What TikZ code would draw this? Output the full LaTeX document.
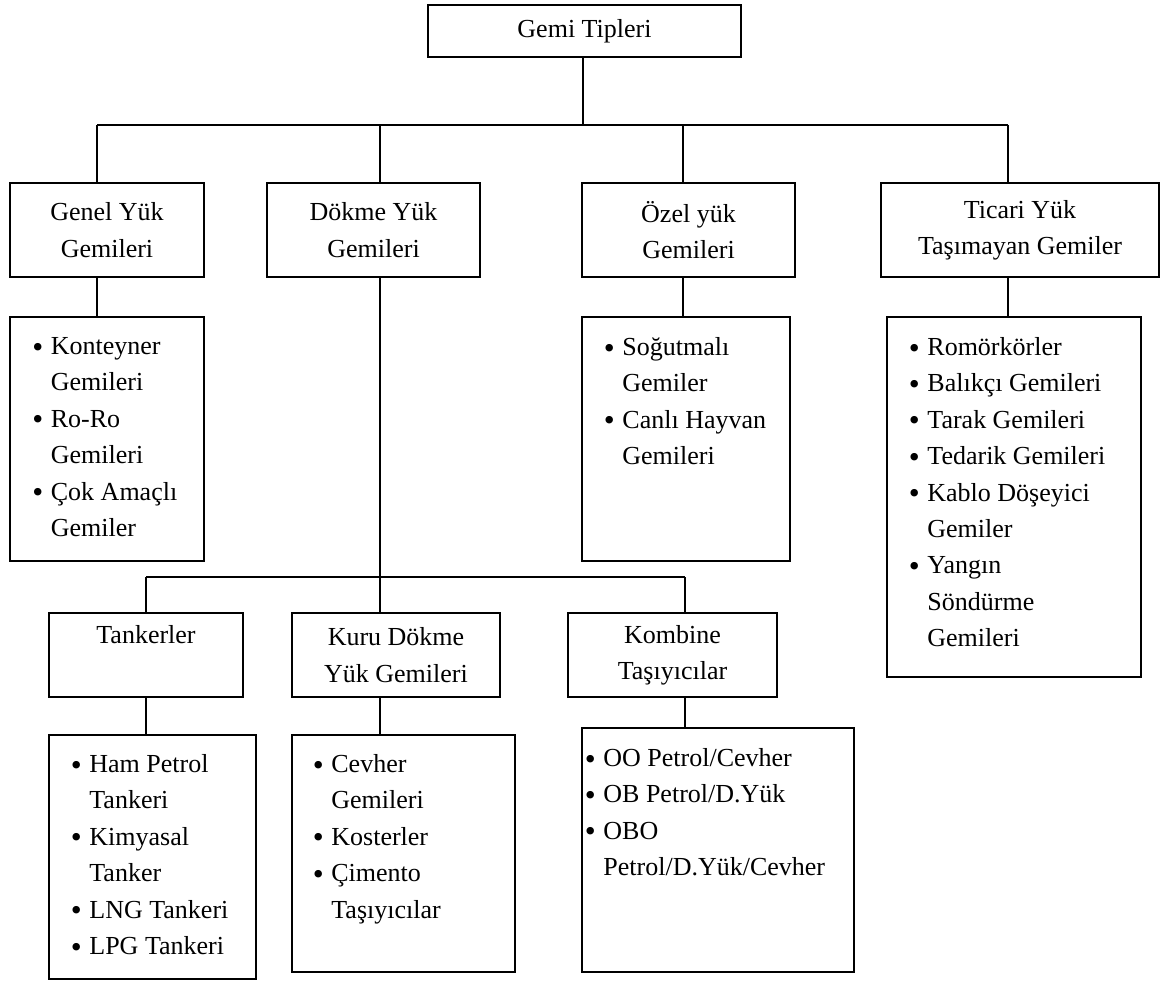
\documentclass[tikz,border=0pt]{standalone}
\usepackage{fontspec}
\setmainfont{Liberation Serif}
% bullet hanging to the left of the item text
\newcommand\itembul{\llap{\makebox[13pt]{\raisebox{-1.35pt}{\scalebox{1.2}{•}}}}}
\begin{document}
\begin{tikzpicture}[x=0.5pt,y=-0.5pt,
  every node/.style={font=\fontsize{13}{18.2}\selectfont, inner sep=0pt},
  box/.style 2 args={draw, line width=1pt, align=center,
    minimum width=#1*0.5pt, minimum height=#2*0.5pt},
  items/.style={anchor=north west, align=left,
    execute at begin node={\rule{0pt}{13pt}}},
  link/.style={line width=1pt}]
\fill[white] (0,0) rectangle (1161,983);
\useasboundingbox (0,0) rectangle (1161,983);

% level 1
\node[box={313}{52}] (top) at (584.5,31) {Gemi Tipleri};

% level 2
\node[box={194}{94}] (genel) at (107,230) {Genel Yük\\Gemileri};
\node[box={213}{94}] (dokme) at (373.5,230) {Dökme Yük\\Gemileri};
\node[box={213}{94}] (ozel) at (688.5,230) {Özel yük\\Gemileri};
\node[box={278}{94}] (ticari) at (1020,230) {Ticari Yük\\Taşımayan Gemiler};

% level 2 lists
\node[box={194}{244}] (genelL) at (107,439) {};
\node[box={208}{244}] (ozelL) at (686,439) {};
\node[box={254}{360}] (ticariL) at (1014,497) {};
\node[items] (genelT) at (50.5,337)
  {\itembul Konteyner\\Gemileri\\\itembul Ro-Ro\\Gemileri\\\itembul Çok Amaçlı\\Gemiler};
\node[items] (ozelT) at (622,337)
  {\itembul Soğutmalı\\Gemiler\\\itembul Canlı Hayvan\\Gemileri};
\node[items] (ticariT) at (927,337)
  {\itembul Romörkörler\\\itembul Balıkçı Gemileri\\\itembul Tarak Gemileri\\\itembul Tedarik Gemileri\\\itembul Kablo Döşeyici\\Gemiler\\\itembul Yangın\\Söndürme\\Gemileri};

% level 3 (bulk carriers)
\node[box={194}{84}] (tank) at (146,655) {Tankerler\\\phantom{Gy}};
\node[box={208}{84}] (kuru) at (396,655) {Kuru Dökme\\Yük Gemileri};
\node[box={209}{84}] (komb) at (672.5,655) {Kombine\\Taşıyıcılar};

% level 3 lists
\node[box={207}{244}] (tankL) at (152.5,857) {};
\node[box={223}{237}] (kuruL) at (403.5,853.5) {};
\node[box={272}{244}] (kombL) at (718,850) {};
\node[items] (tankT) at (89,754)
  {\itembul Ham Petrol\\Tankeri\\\itembul Kimyasal\\Tanker\\\itembul LNG Tankeri\\\itembul LPG Tankeri};
\node[items] (kuruT) at (331,754)
  {\itembul Cevher\\Gemileri\\\itembul Kosterler\\\itembul Çimento\\Taşıyıcılar};
\node[items] (kombT) at (603,748)
  {\itembul OO Petrol/Cevher\\\itembul OB Petrol/D.Yük\\\itembul OBO\\Petrol/D.Yük/Cevher};

% main bus
\coordinate (b0) at (583,125);
\coordinate (b1) at (97,125);
\coordinate (b2) at (380,125);
\coordinate (b3) at (683,125);
\coordinate (b4) at (1008,125);
\draw[link] (top.south -| b0) -- (b0);
\draw[link] (b1) -- (b4);
\draw[link] (b1) -- (b1 |- genel.north);
\draw[link] (b2) -- (b2 |- dokme.north);
\draw[link] (b3) -- (b3 |- ozel.north);
\draw[link] (b4) -- (b4 |- ticari.north);
\draw[link] (b1 |- genel.south) -- (b1 |- genelL.north);
\draw[link] (b3 |- ozel.south) -- (b3 |- ozelL.north);
\draw[link] (b4 |- ticari.south) -- (b4 |- ticariL.north);

% bulk carrier bus
\coordinate (c1) at (146,577);
\coordinate (c2) at (380,577);
\coordinate (c3) at (685,577);
\draw[link] (b2 |- dokme.south) -- (c2);
\draw[link] (c1) -- (c3);
\draw[link] (c1) -- (c1 |- tank.north);
\draw[link] (c2) -- (c2 |- kuru.north);
\draw[link] (c3) -- (c3 |- komb.north);
\draw[link] (c1 |- tank.south) -- (c1 |- tankL.north);
\draw[link] (c2 |- kuru.south) -- (c2 |- kuruL.north);
\draw[link] (c3 |- komb.south) -- (c3 |- kombL.north);
\end{tikzpicture}
\end{document}
